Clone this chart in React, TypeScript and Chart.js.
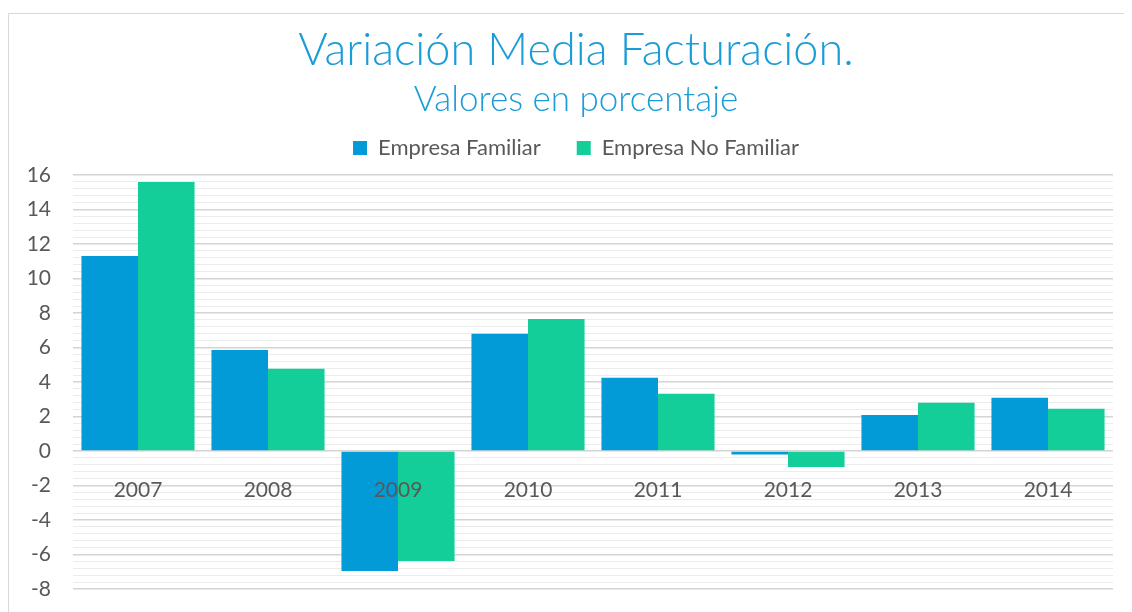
import React, { useEffect, useRef } from "react";
import { Chart, registerables } from "chart.js";

Chart.register(...registerables);

const categories = ["2007", "2008", "2009", "2010", "2011", "2012", "2013", "2014"];
const empresaFamiliar = [11.3, 5.85, -6.95, 6.8, 4.25, -0.2, 2.08, 3.08];
const empresaNoFamiliar = [15.6, 4.77, -6.38, 7.65, 3.32, -0.93, 2.8, 2.45];
const yMin = -8;
const yMax = 16;
const minorStep = 0.4;
const majorStep = 2;

const FONT = "Lato, 'Open Sans', sans-serif";
const GREY = "#595959";

const isMajor = (v: number) => Math.abs(v / majorStep - Math.round(v / majorStep)) < 1e-6;

// adds a little space under the legend row
const legendGap = {
  id: "legendGap",
  afterInit(chart: any) {
    const legend = chart.legend;
    if (!legend || legend.__patched) return;
    const orig = legend.fit;
    legend.fit = function (this: any) {
      orig.call(this);
      this.height += 6;
    };
    legend.__patched = true;
  },
};

export default function App() {
  const ref = useRef<HTMLCanvasElement | null>(null);
  useEffect(() => {
    document.body.style.overflow = "hidden";
    if (!ref.current) return;
    const chart = new Chart(ref.current, {
      type: "bar",
      data: {
        labels: categories,
        datasets: [
          {
            label: "Empresa Familiar",
            data: empresaFamiliar,
            backgroundColor: "#039BD7",
            borderWidth: 0,
            categoryPercentage: 0.87,
            barPercentage: 1,
          },
          {
            label: "Empresa No Familiar",
            data: empresaNoFamiliar,
            backgroundColor: "#13CE98",
            borderWidth: 0,
            categoryPercentage: 0.87,
            barPercentage: 1,
          },
        ],
      },
      plugins: [legendGap],
      options: {
        animation: false,
        responsive: true,
        maintainAspectRatio: false,
        layout: { padding: { left: 0, right: 0, top: 0, bottom: 23 } },
        plugins: {
          title: {
            display: true,
            text: "Variación Media Facturación.",
            color: "#1A9CD8",
            font: { family: FONT, size: 45, weight: "300" as any },
            padding: { top: 9, bottom: 0 },
          },
          subtitle: {
            display: true,
            text: "Valores en porcentaje",
            color: "#1A9CD8",
            font: { family: FONT, size: 35, weight: "300" as any },
            padding: { top: 2, bottom: -20 },
          },
          legend: {
            display: true,
            position: "top",
            labels: {
              boxWidth: 14,
              boxHeight: 14,
              color: GREY,
              padding: 36,
              font: { family: FONT, size: 22 },
            },
          },
          tooltip: { enabled: false },
        },
        scales: {
          x: {
            type: "category",
            position: { y: 0 } as any,
            grid: { display: false },
            border: { display: false },
            ticks: {
              z: 1,
              color: GREY,
              font: { family: FONT, size: 21 },
              padding: 19,
              maxRotation: 0,
            },
          },
          y: {
            min: yMin,
            max: yMax,
            border: { display: false },
            grid: {
              drawTicks: false,
              color: (ctx: any) => (ctx.tick && isMajor(ctx.tick.value) ? "#d4d4d4" : "#ececec"),
              lineWidth: (ctx: any) => (ctx.tick && isMajor(ctx.tick.value) ? 1.5 : 1),
            },
            ticks: {
              stepSize: minorStep,
              maxTicksLimit: 200,
              autoSkip: false,
              color: GREY,
              padding: 22,
              font: { family: FONT, size: 21 },
              callback: (v: any) => (isMajor(Number(v)) ? String(Math.round(Number(v))) : ""),
            },
            afterFit: (scale: any) => {
              scale.width = 64;
              scale.paddingBottom = 12;
              scale.paddingTop = 12;
            },
          },
          yRight: {
            type: "linear",
            position: "right",
            min: yMin,
            max: yMax,
            grid: { display: false, drawTicks: false },
            border: { display: false },
            ticks: { display: false },
            afterFit: (scale: any) => {
              scale.width = 30;
              scale.paddingBottom = 0;
              scale.paddingTop = 0;
            },
          },
        },
      },
    });
    return () => chart.destroy();
  }, []);
  return (
    <div
      style={{
        marginTop: 5,
        width: 1135,
        height: 599,
        borderTop: "1px solid #d9d9d9",
        borderLeft: "1px solid #d9d9d9",
        boxSizing: "border-box",
        background: "#fff",
        position: "relative",
      }}
    >
      <canvas ref={ref} />
    </div>
  );
}
